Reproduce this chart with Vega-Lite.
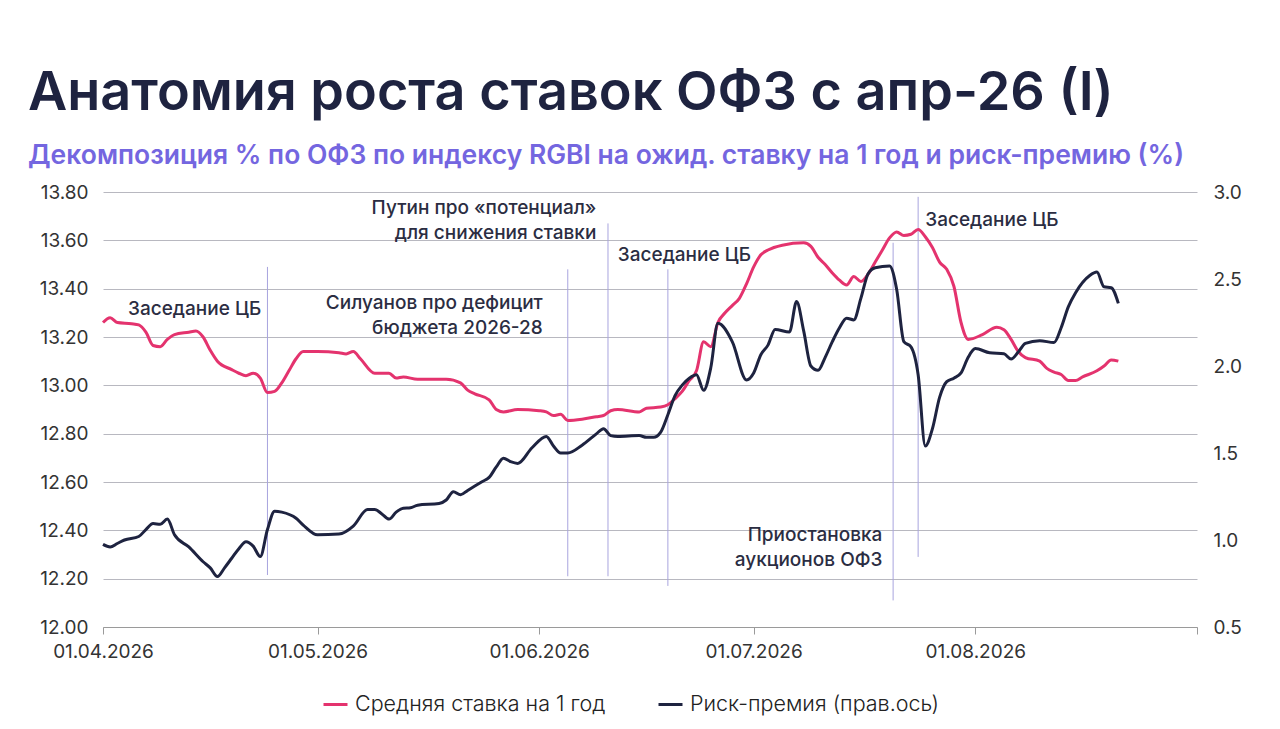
{
  "$schema": "https://vega.github.io/schema/vega-lite/v6.json",
  "description": "Анатомия роста ставок ОФЗ с апр-26 (I)",
  "autosize": "none",
  "width": 1094,
  "height": 435,
  "padding": {"left": 103, "top": 192, "right": 83, "bottom": 102},
  "background": "white",
  "title": {
    "text": "Анатомия роста ставок ОФЗ с апр-26 (I)",
    "subtitle": "Декомпозиция % по ОФЗ по индексу RGBI на ожид. ставку на 1 год и риск-премию (%)",
    "anchor": "start",
    "frame": "group",
    "dx": -75,
    "offset": 14,
    "font": "Inter",
    "fontSize": 54,
    "fontWeight": 600,
    "color": "#1e2340",
    "subtitleFont": "Inter",
    "subtitleFontSize": 26.5,
    "subtitleFontWeight": 600,
    "subtitleColor": "#7466e0",
    "subtitlePadding": 22
  },
  "datasets": {
    "rate": [
      {"date": "2026-04-01", "value": 13.26}, {"date": "2026-04-02", "value": 13.28},
      {"date": "2026-04-03", "value": 13.26}, {"date": "2026-04-05", "value": 13.255},
      {"date": "2026-04-06", "value": 13.25}, {"date": "2026-04-07", "value": 13.22},
      {"date": "2026-04-08", "value": 13.165}, {"date": "2026-04-09", "value": 13.16},
      {"date": "2026-04-10", "value": 13.19}, {"date": "2026-04-11", "value": 13.21},
      {"date": "2026-04-13", "value": 13.22}, {"date": "2026-04-14", "value": 13.225},
      {"date": "2026-04-15", "value": 13.2}, {"date": "2026-04-16", "value": 13.145},
      {"date": "2026-04-17", "value": 13.1}, {"date": "2026-04-19", "value": 13.065},
      {"date": "2026-04-20", "value": 13.05}, {"date": "2026-04-21", "value": 13.04},
      {"date": "2026-04-22", "value": 13.05}, {"date": "2026-04-23", "value": 13.03},
      {"date": "2026-04-24", "value": 12.97}, {"date": "2026-04-25", "value": 12.975},
      {"date": "2026-04-26", "value": 13.01}, {"date": "2026-04-27", "value": 13.06},
      {"date": "2026-04-28", "value": 13.11}, {"date": "2026-04-29", "value": 13.14},
      {"date": "2026-05-01", "value": 13.14}, {"date": "2026-05-04", "value": 13.135},
      {"date": "2026-05-05", "value": 13.13}, {"date": "2026-05-06", "value": 13.14},
      {"date": "2026-05-07", "value": 13.11}, {"date": "2026-05-09", "value": 13.05},
      {"date": "2026-05-11", "value": 13.05}, {"date": "2026-05-12", "value": 13.03},
      {"date": "2026-05-13", "value": 13.035}, {"date": "2026-05-15", "value": 13.025},
      {"date": "2026-05-19", "value": 13.025}, {"date": "2026-05-21", "value": 13.01},
      {"date": "2026-05-22", "value": 12.98}, {"date": "2026-05-23", "value": 12.965},
      {"date": "2026-05-25", "value": 12.94}, {"date": "2026-05-26", "value": 12.9},
      {"date": "2026-05-27", "value": 12.89}, {"date": "2026-05-29", "value": 12.9},
      {"date": "2026-06-01", "value": 12.895}, {"date": "2026-06-02", "value": 12.89},
      {"date": "2026-06-03", "value": 12.875}, {"date": "2026-06-04", "value": 12.88},
      {"date": "2026-06-05", "value": 12.855}, {"date": "2026-06-07", "value": 12.86},
      {"date": "2026-06-09", "value": 12.87}, {"date": "2026-06-10", "value": 12.875},
      {"date": "2026-06-11", "value": 12.895}, {"date": "2026-06-12", "value": 12.9},
      {"date": "2026-06-15", "value": 12.89}, {"date": "2026-06-16", "value": 12.905},
      {"date": "2026-06-18", "value": 12.91}, {"date": "2026-06-19", "value": 12.92},
      {"date": "2026-06-20", "value": 12.945}, {"date": "2026-06-21", "value": 12.975},
      {"date": "2026-06-22", "value": 13.02}, {"date": "2026-06-23", "value": 13.06},
      {"date": "2026-06-24", "value": 13.18}, {"date": "2026-06-25", "value": 13.16},
      {"date": "2026-06-26", "value": 13.26}, {"date": "2026-06-27", "value": 13.3},
      {"date": "2026-06-28", "value": 13.33}, {"date": "2026-06-29", "value": 13.36},
      {"date": "2026-06-30", "value": 13.42}, {"date": "2026-07-01", "value": 13.49},
      {"date": "2026-07-02", "value": 13.54}, {"date": "2026-07-03", "value": 13.56},
      {"date": "2026-07-05", "value": 13.58}, {"date": "2026-07-08", "value": 13.59},
      {"date": "2026-07-09", "value": 13.575}, {"date": "2026-07-10", "value": 13.53},
      {"date": "2026-07-11", "value": 13.5}, {"date": "2026-07-12", "value": 13.465},
      {"date": "2026-07-13", "value": 13.435}, {"date": "2026-07-14", "value": 13.415},
      {"date": "2026-07-15", "value": 13.45}, {"date": "2026-07-16", "value": 13.43},
      {"date": "2026-07-17", "value": 13.46}, {"date": "2026-07-18", "value": 13.51},
      {"date": "2026-07-19", "value": 13.56}, {"date": "2026-07-20", "value": 13.61},
      {"date": "2026-07-21", "value": 13.635}, {"date": "2026-07-22", "value": 13.62},
      {"date": "2026-07-23", "value": 13.625}, {"date": "2026-07-24", "value": 13.645},
      {"date": "2026-07-25", "value": 13.615}, {"date": "2026-07-26", "value": 13.57},
      {"date": "2026-07-27", "value": 13.51}, {"date": "2026-07-28", "value": 13.48},
      {"date": "2026-07-29", "value": 13.41}, {"date": "2026-07-30", "value": 13.26},
      {"date": "2026-07-31", "value": 13.19}, {"date": "2026-08-02", "value": 13.21},
      {"date": "2026-08-04", "value": 13.24}, {"date": "2026-08-05", "value": 13.23},
      {"date": "2026-08-06", "value": 13.19}, {"date": "2026-08-07", "value": 13.14},
      {"date": "2026-08-08", "value": 13.115}, {"date": "2026-08-10", "value": 13.1},
      {"date": "2026-08-11", "value": 13.07}, {"date": "2026-08-12", "value": 13.055},
      {"date": "2026-08-13", "value": 13.045}, {"date": "2026-08-14", "value": 13.02},
      {"date": "2026-08-15", "value": 13.02}, {"date": "2026-08-16", "value": 13.035},
      {"date": "2026-08-18", "value": 13.06}, {"date": "2026-08-19", "value": 13.08},
      {"date": "2026-08-20", "value": 13.105}, {"date": "2026-08-21", "value": 13.1}
    ],
    "premium": [
      {"date": "2026-04-01", "value": 0.975}, {"date": "2026-04-02", "value": 0.96},
      {"date": "2026-04-03", "value": 0.98}, {"date": "2026-04-04", "value": 1.0},
      {"date": "2026-04-06", "value": 1.02}, {"date": "2026-04-07", "value": 1.06},
      {"date": "2026-04-08", "value": 1.095}, {"date": "2026-04-09", "value": 1.09},
      {"date": "2026-04-10", "value": 1.12}, {"date": "2026-04-11", "value": 1.03},
      {"date": "2026-04-13", "value": 0.96}, {"date": "2026-04-15", "value": 0.875},
      {"date": "2026-04-16", "value": 0.84}, {"date": "2026-04-17", "value": 0.79},
      {"date": "2026-04-18", "value": 0.84}, {"date": "2026-04-19", "value": 0.895},
      {"date": "2026-04-20", "value": 0.95}, {"date": "2026-04-21", "value": 0.99},
      {"date": "2026-04-22", "value": 0.965}, {"date": "2026-04-23", "value": 0.905},
      {"date": "2026-04-24", "value": 1.06}, {"date": "2026-04-25", "value": 1.165},
      {"date": "2026-04-26", "value": 1.16}, {"date": "2026-04-28", "value": 1.125},
      {"date": "2026-04-29", "value": 1.086}, {"date": "2026-05-01", "value": 1.03},
      {"date": "2026-05-04", "value": 1.034}, {"date": "2026-05-06", "value": 1.08},
      {"date": "2026-05-08", "value": 1.175}, {"date": "2026-05-09", "value": 1.175},
      {"date": "2026-05-10", "value": 1.15}, {"date": "2026-05-11", "value": 1.12},
      {"date": "2026-05-12", "value": 1.16}, {"date": "2026-05-13", "value": 1.182},
      {"date": "2026-05-14", "value": 1.185}, {"date": "2026-05-15", "value": 1.2},
      {"date": "2026-05-18", "value": 1.21}, {"date": "2026-05-19", "value": 1.23},
      {"date": "2026-05-20", "value": 1.278}, {"date": "2026-05-21", "value": 1.26},
      {"date": "2026-05-22", "value": 1.285}, {"date": "2026-05-24", "value": 1.335},
      {"date": "2026-05-25", "value": 1.36}, {"date": "2026-05-26", "value": 1.42},
      {"date": "2026-05-27", "value": 1.47}, {"date": "2026-05-28", "value": 1.45},
      {"date": "2026-05-29", "value": 1.44}, {"date": "2026-05-31", "value": 1.53},
      {"date": "2026-06-02", "value": 1.595}, {"date": "2026-06-03", "value": 1.54},
      {"date": "2026-06-04", "value": 1.5}, {"date": "2026-06-05", "value": 1.5},
      {"date": "2026-06-07", "value": 1.545}, {"date": "2026-06-09", "value": 1.61},
      {"date": "2026-06-10", "value": 1.64}, {"date": "2026-06-11", "value": 1.6},
      {"date": "2026-06-12", "value": 1.595}, {"date": "2026-06-15", "value": 1.6},
      {"date": "2026-06-16", "value": 1.59}, {"date": "2026-06-17", "value": 1.59},
      {"date": "2026-06-18", "value": 1.62}, {"date": "2026-06-19", "value": 1.72},
      {"date": "2026-06-20", "value": 1.83}, {"date": "2026-06-21", "value": 1.89},
      {"date": "2026-06-22", "value": 1.93}, {"date": "2026-06-23", "value": 1.95},
      {"date": "2026-06-24", "value": 1.86}, {"date": "2026-06-25", "value": 1.99},
      {"date": "2026-06-26", "value": 2.245}, {"date": "2026-06-28", "value": 2.14},
      {"date": "2026-06-30", "value": 1.92}, {"date": "2026-07-01", "value": 1.96},
      {"date": "2026-07-02", "value": 2.065}, {"date": "2026-07-03", "value": 2.12},
      {"date": "2026-07-04", "value": 2.21}, {"date": "2026-07-06", "value": 2.195},
      {"date": "2026-07-07", "value": 2.37}, {"date": "2026-07-08", "value": 2.2},
      {"date": "2026-07-09", "value": 2.0}, {"date": "2026-07-10", "value": 1.975},
      {"date": "2026-07-11", "value": 2.05}, {"date": "2026-07-12", "value": 2.14},
      {"date": "2026-07-13", "value": 2.22}, {"date": "2026-07-14", "value": 2.275},
      {"date": "2026-07-15", "value": 2.265}, {"date": "2026-07-16", "value": 2.39},
      {"date": "2026-07-17", "value": 2.53}, {"date": "2026-07-18", "value": 2.565},
      {"date": "2026-07-20", "value": 2.575}, {"date": "2026-07-21", "value": 2.44},
      {"date": "2026-07-22", "value": 2.14}, {"date": "2026-07-23", "value": 2.11},
      {"date": "2026-07-24", "value": 1.95}, {"date": "2026-07-25", "value": 1.54},
      {"date": "2026-07-26", "value": 1.64}, {"date": "2026-07-27", "value": 1.82},
      {"date": "2026-07-28", "value": 1.91}, {"date": "2026-07-29", "value": 1.93},
      {"date": "2026-07-30", "value": 1.96}, {"date": "2026-07-31", "value": 2.05},
      {"date": "2026-08-01", "value": 2.1}, {"date": "2026-08-03", "value": 2.076},
      {"date": "2026-08-05", "value": 2.07}, {"date": "2026-08-06", "value": 2.04},
      {"date": "2026-08-07", "value": 2.08}, {"date": "2026-08-08", "value": 2.13},
      {"date": "2026-08-10", "value": 2.145}, {"date": "2026-08-12", "value": 2.135},
      {"date": "2026-08-13", "value": 2.22}, {"date": "2026-08-14", "value": 2.34},
      {"date": "2026-08-15", "value": 2.42}, {"date": "2026-08-17", "value": 2.52},
      {"date": "2026-08-18", "value": 2.54}, {"date": "2026-08-19", "value": 2.455},
      {"date": "2026-08-20", "value": 2.45}, {"date": "2026-08-21", "value": 2.36}
    ],
    "events": [
      {"date": "2026-04-24", "top": 13.49, "bottom": 12.215},
      {"date": "2026-06-05", "top": 13.48, "bottom": 12.21},
      {"date": "2026-06-10T15:00:00Z", "top": 13.67, "bottom": 12.21},
      {"date": "2026-06-19", "top": 13.48, "bottom": 12.17},
      {"date": "2026-07-20T12:00:00Z", "top": 13.59, "bottom": 12.11},
      {"date": "2026-07-24", "top": 13.78, "bottom": 12.29}
    ],
    "notesLeft": [
      {"date": "2026-04-04T12:00:00Z", "value": 13.29, "label": "Заседание ЦБ"},
      {"date": "2026-06-12", "value": 13.515, "label": "Заседание ЦБ"},
      {"date": "2026-07-25", "value": 13.66, "label": "Заседание ЦБ"}
    ],
    "notesRight": [
      {"date": "2026-06-09", "value": 13.71, "label": ["Путин про «потенциал»", "для снижения ставки"]},
      {"date": "2026-06-01T12:00:00Z", "value": 13.316, "label": ["Силуанов про дефицит", "бюджета 2026-28"]},
      {"date": "2026-07-19", "value": 12.356, "label": ["Приостановка", "аукционов ОФЗ"]}
    ]
  },
  "encoding": {
    "x": {
      "field": "date",
      "type": "temporal",
      "scale": {
        "type": "utc",
        "domain": [
          {"year": 2026, "month": "apr", "date": 1, "utc": true},
          {"year": 2026, "month": "sep", "date": 1, "utc": true}
        ]
      },
      "axis": {
        "title": null,
        "grid": false,
        "values": [
          {"year": 2026, "month": "apr", "date": 1, "utc": true},
          {"year": 2026, "month": "may", "date": 1, "utc": true},
          {"year": 2026, "month": "jun", "date": 1, "utc": true},
          {"year": 2026, "month": "jul", "date": 1, "utc": true},
          {"year": 2026, "month": "aug", "date": 1, "utc": true},
          {"year": 2026, "month": "sep", "date": 1, "utc": true}
        ],
        "format": "%d.%m.%Y",
        "labelExpr": "utcmonth(datum.value) == 8 ? '' : datum.label",
        "labelFlush": false,
        "labelFont": "Inter",
        "labelFontSize": 19,
        "labelColor": "#333333",
        "labelPadding": 8,
        "domainColor": "#9a9a9a",
        "tickColor": "#9a9a9a",
        "tickSize": 7
      }
    }
  },
  "layer": [
    {
      "layer": [
        {
          "data": {"name": "events"},
          "mark": {"type": "rule", "color": "#a8a4de", "strokeWidth": 1},
          "encoding": {
            "y": {"field": "top", "type": "quantitative"},
            "y2": {"field": "bottom"}
          }
        },
        {
          "data": {"name": "rate"},
          "mark": {"type": "line", "interpolate": "monotone", "strokeWidth": 3},
          "encoding": {
            "y": {
              "field": "value",
              "type": "quantitative",
              "scale": {"domain": [12, 13.8], "nice": false, "zero": false},
              "axis": {
                "title": null,
                "values": [12, 12.2, 12.4, 12.6, 12.8, 13, 13.2, 13.4, 13.6, 13.8],
                "format": ".2f",
                "domain": false,
                "ticks": false,
                "grid": true,
                "gridColor": "#b8b8c0",
                "labelFont": "Inter",
                "labelFontSize": 19,
                "labelColor": "#333333",
                "labelPadding": 15
              }
            },
            "color": {"datum": "Средняя ставка на 1 год"}
          }
        },
        {
          "data": {"name": "notesLeft"},
          "mark": {"type": "text", "align": "left", "baseline": "alphabetic", "font": "Inter", "fontSize": 19, "fontWeight": 500, "color": "#2b2d42"},
          "encoding": {
            "y": {"field": "value", "type": "quantitative"},
            "text": {"field": "label"}
          }
        },
        {
          "data": {"name": "notesRight"},
          "mark": {"type": "text", "align": "right", "baseline": "alphabetic", "font": "Inter", "fontSize": 19, "fontWeight": 500, "color": "#2b2d42", "lineHeight": 25},
          "encoding": {
            "y": {"field": "value", "type": "quantitative"},
            "text": {"field": "label"}
          }
        }
      ]
    },
    {
      "data": {"name": "premium"},
      "mark": {"type": "line", "interpolate": "monotone", "strokeWidth": 3},
      "encoding": {
        "y": {
          "field": "value",
          "type": "quantitative",
          "scale": {"domain": [0.5, 3.0], "nice": false, "zero": false},
          "axis": {
            "orient": "right",
            "title": null,
            "values": [0.5, 1, 1.5, 2, 2.5, 3],
            "format": ".1f",
            "domain": false,
            "ticks": false,
            "grid": false,
            "labelFont": "Inter",
            "labelFontSize": 19,
            "labelColor": "#333333",
            "labelPadding": 16
          }
        },
        "color": {
          "datum": "Риск-премия (прав.ось)",
          "scale": {
            "domain": ["Средняя ставка на 1 год", "Риск-премия (прав.ось)"],
            "range": ["#e4336e", "#1e2340"]
          },
          "legend": {
            "title": null,
            "orient": "none",
            "legendX": 219,
            "legendY": 499,
            "direction": "horizontal",
            "symbolType": "stroke",
            "symbolSize": 576,
            "symbolStrokeWidth": 3,
            "labelFont": "Inter",
            "labelFontSize": 21.5,
            "labelFontWeight": 300,
            "labelColor": "#222222",
            "labelOffset": 6,
            "labelLimit": 400,
            "columnPadding": 46
          }
        }
      }
    }
  ],
  "resolve": {"scale": {"y": "independent"}},
  "config": {
    "view": {"stroke": null}
  }
}
